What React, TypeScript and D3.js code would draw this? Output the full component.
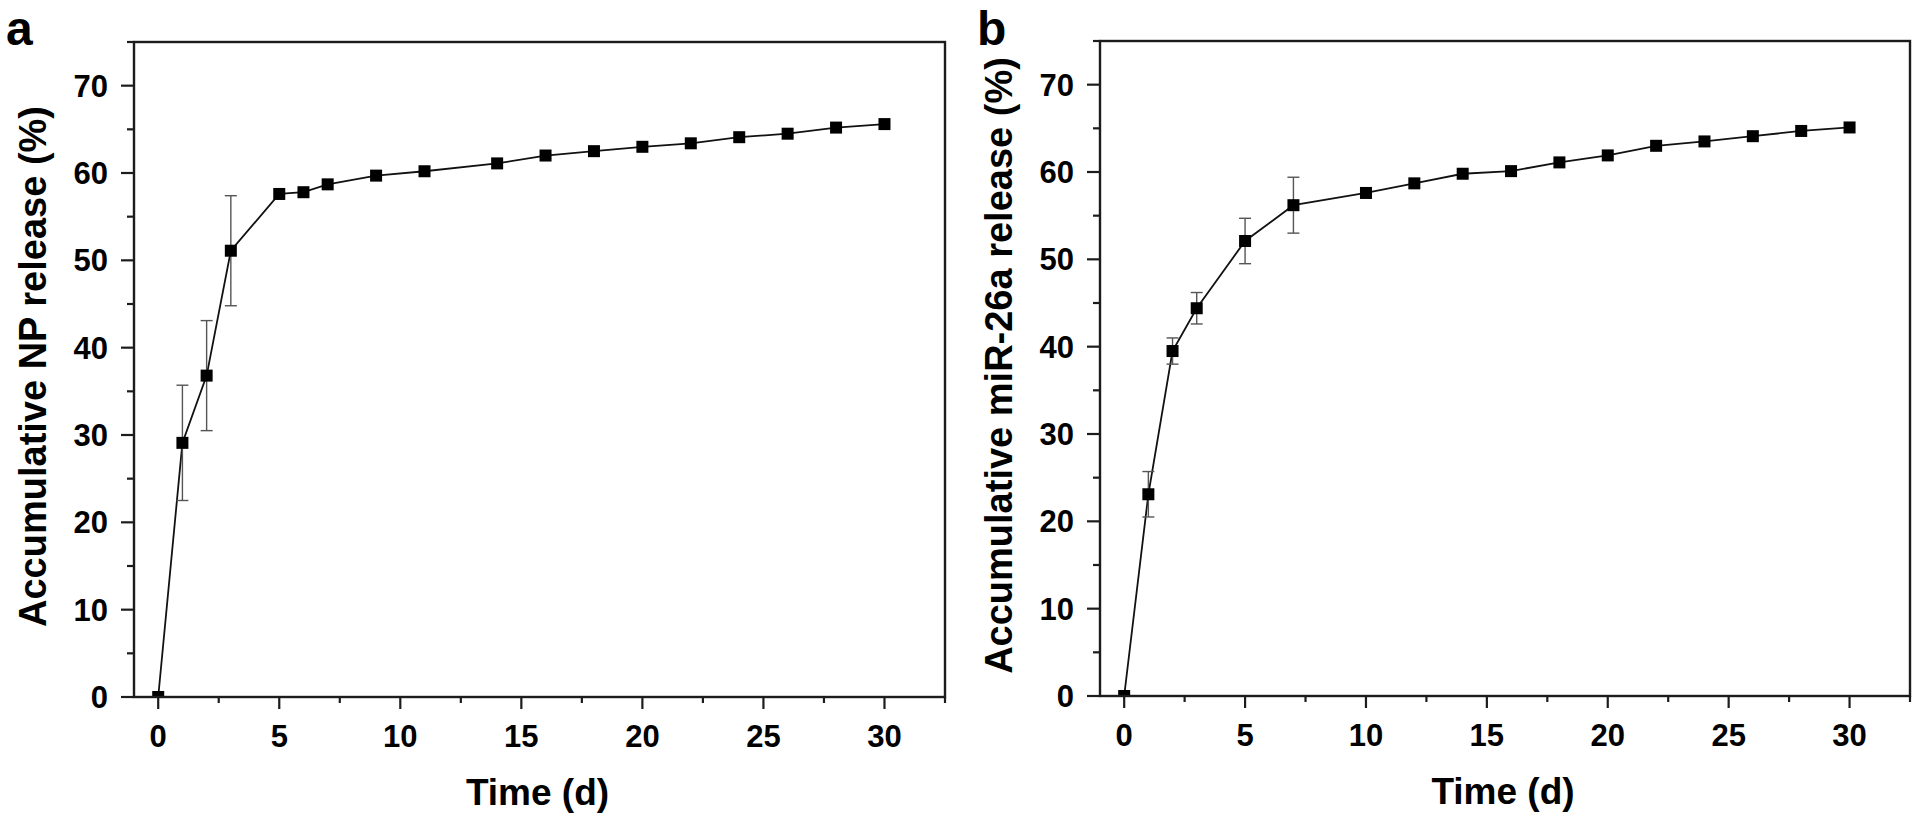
import React from "react";
import * as d3 from "d3";

// Panel a: cumulative NP release
const daysA = [0, 1, 2, 3, 5, 6, 7, 9, 11, 14, 16, 18, 20, 22, 24, 26, 28, 30];
const releaseA = [0, 29.1, 36.8, 51.1, 57.6, 57.8, 58.7, 59.7, 60.2, 61.1, 62.0, 62.5, 63.0, 63.4, 64.1, 64.5, 65.2, 65.6];
const errA = [0, 6.6, 6.3, 6.3, 0, 0, 0, 0, 0, 0, 0, 0, 0, 0, 0, 0, 0, 0];

// Panel b: cumulative miR-26a release
const daysB = [0, 1, 2, 3, 5, 7, 10, 12, 14, 16, 18, 20, 22, 24, 26, 28, 30];
const releaseB = [0, 23.1, 39.5, 44.4, 52.1, 56.2, 57.6, 58.7, 59.8, 60.1, 61.1, 61.9, 63.0, 63.5, 64.1, 64.7, 65.1];
const errB = [0, 2.6, 1.5, 1.8, 2.6, 3.2, 0, 0, 0, 0, 0, 0, 0, 0, 0, 0, 0];

const xMajorTicks = [0, 5, 10, 15, 20, 25, 30];
const xMinorTicks = [2.5, 7.5, 12.5, 17.5, 22.5, 27.5, 32.5];
const yMajorTicks = [0, 10, 20, 30, 40, 50, 60, 70];
const yMinorTicks = [5, 15, 25, 35, 45, 55, 65, 75];

const xDomain: [number, number] = [-1, 32.5];
const yDomain: [number, number] = [0, 75];

const FONT = "'Liberation Sans', Arial, Helvetica, sans-serif";
const AXIS = "#1c1c1c";

type PanelProps = {
  id: string;
  letter: string;
  letterX: number;
  left: number;
  right: number;
  top: number;
  bottom: number;
  xs: number[];
  ys: number[];
  errs: number[];
  yTitle: string;
};

function Panel({ id, letter, letterX, left, right, top, bottom, xs, ys, errs, yTitle }: PanelProps) {
  const x = d3.scaleLinear().domain(xDomain).range([left, right]);
  const y = d3.scaleLinear().domain(yDomain).range([bottom, top]);
  const pts = xs.map((d, i) => ({ x: d, y: ys[i], e: errs[i] }));
  const line = d3
    .line<{ x: number; y: number }>()
    .x((d) => x(d.x))
    .y((d) => y(d.y));
  const ms = 12;
  const cap = 6;
  const clipId = `clip-${id}`;
  return (
    <g>
      <defs>
        <clipPath id={clipId}>
          <rect x={left} y={top} width={right - left} height={bottom - top} />
        </clipPath>
      </defs>
      <text x={letterX} y={45} fontFamily={FONT} fontWeight="bold" fontSize={48} fill="#000">
        {letter}
      </text>
      {/* data */}
      <g clipPath={`url(#${clipId})`}>
        <path d={line(pts) || ""} fill="none" stroke="#111" strokeWidth={1.8} />
        {pts
          .filter((p) => p.e > 0)
          .map((p, i) => (
            <g key={`e${i}`} stroke="#555" strokeWidth={1.4}>
              <line x1={x(p.x)} x2={x(p.x)} y1={y(p.y + p.e)} y2={y(p.y - p.e)} />
              <line x1={x(p.x) - cap} x2={x(p.x) + cap} y1={y(p.y + p.e)} y2={y(p.y + p.e)} />
              <line x1={x(p.x) - cap} x2={x(p.x) + cap} y1={y(p.y - p.e)} y2={y(p.y - p.e)} />
            </g>
          ))}
        {pts.map((p, i) => (
          <rect key={`m${i}`} x={x(p.x) - ms / 2} y={y(p.y) - ms / 2} width={ms} height={ms} fill="#000" />
        ))}
      </g>
      {/* frame */}
      <rect x={left} y={top} width={right - left} height={bottom - top} fill="none" stroke={AXIS} strokeWidth={2.4} />
      {/* x ticks */}
      {xMajorTicks.map((t) => (
        <g key={`xt${t}`}>
          <line x1={x(t)} x2={x(t)} y1={bottom} y2={bottom + 12} stroke={AXIS} strokeWidth={2.2} />
          <text x={x(t)} y={bottom + 50} textAnchor="middle" fontFamily={FONT} fontWeight="bold" fontSize={31} fill="#000">
            {t}
          </text>
        </g>
      ))}
      {xMinorTicks.map((t) => (
        <line key={`xm${t}`} x1={x(t)} x2={x(t)} y1={bottom} y2={bottom + 6} stroke={AXIS} strokeWidth={2.2} />
      ))}
      {/* y ticks */}
      {yMajorTicks.map((t) => (
        <g key={`yt${t}`}>
          <line x1={left - 13} x2={left} y1={y(t)} y2={y(t)} stroke={AXIS} strokeWidth={2.2} />
          <text x={left - 26} y={y(t) + 11} textAnchor="end" fontFamily={FONT} fontWeight="bold" fontSize={31} fill="#000">
            {t}
          </text>
        </g>
      ))}
      {yMinorTicks.map((t) => (
        <line key={`ym${t}`} x1={left - 7} x2={left} y1={y(t)} y2={y(t)} stroke={AXIS} strokeWidth={2.2} />
      ))}
      {/* axis titles */}
      <text
        x={(left + right) / 2 - 2}
        y={bottom + 108}
        textAnchor="middle"
        fontFamily={FONT}
        fontWeight="bold"
        fontSize={37}
        fill="#000"
      >
        Time (d)
      </text>
      <text
        transform={`translate(${left - 88},${(top + bottom) / 2 - 3}) rotate(-90)`}
        textAnchor="middle"
        fontFamily={FONT}
        fontWeight="bold"
        fontSize={38}
        fill="#000"
      >
        {yTitle}
      </text>
    </g>
  );
}

export default function App() {
  return (
    <svg
      width={1920}
      height={828}
      viewBox="0 0 1920 828"
      style={{ position: "absolute", left: 0, top: 0, background: "#fff" }}
    >
      <rect x={0} y={0} width={1920} height={828} fill="#fff" />
      <Panel
        id="a"
        letter="a"
        letterX={6}
        left={134}
        right={945}
        top={42}
        bottom={697}
        xs={daysA}
        ys={releaseA}
        errs={errA}
        yTitle="Accumulative NP release (%)"
      />
      <Panel
        id="b"
        letter="b"
        letterX={977}
        left={1100}
        right={1910}
        top={41}
        bottom={696}
        xs={daysB}
        ys={releaseB}
        errs={errB}
        yTitle="Accumulative miR-26a release (%)"
      />
    </svg>
  );
}
